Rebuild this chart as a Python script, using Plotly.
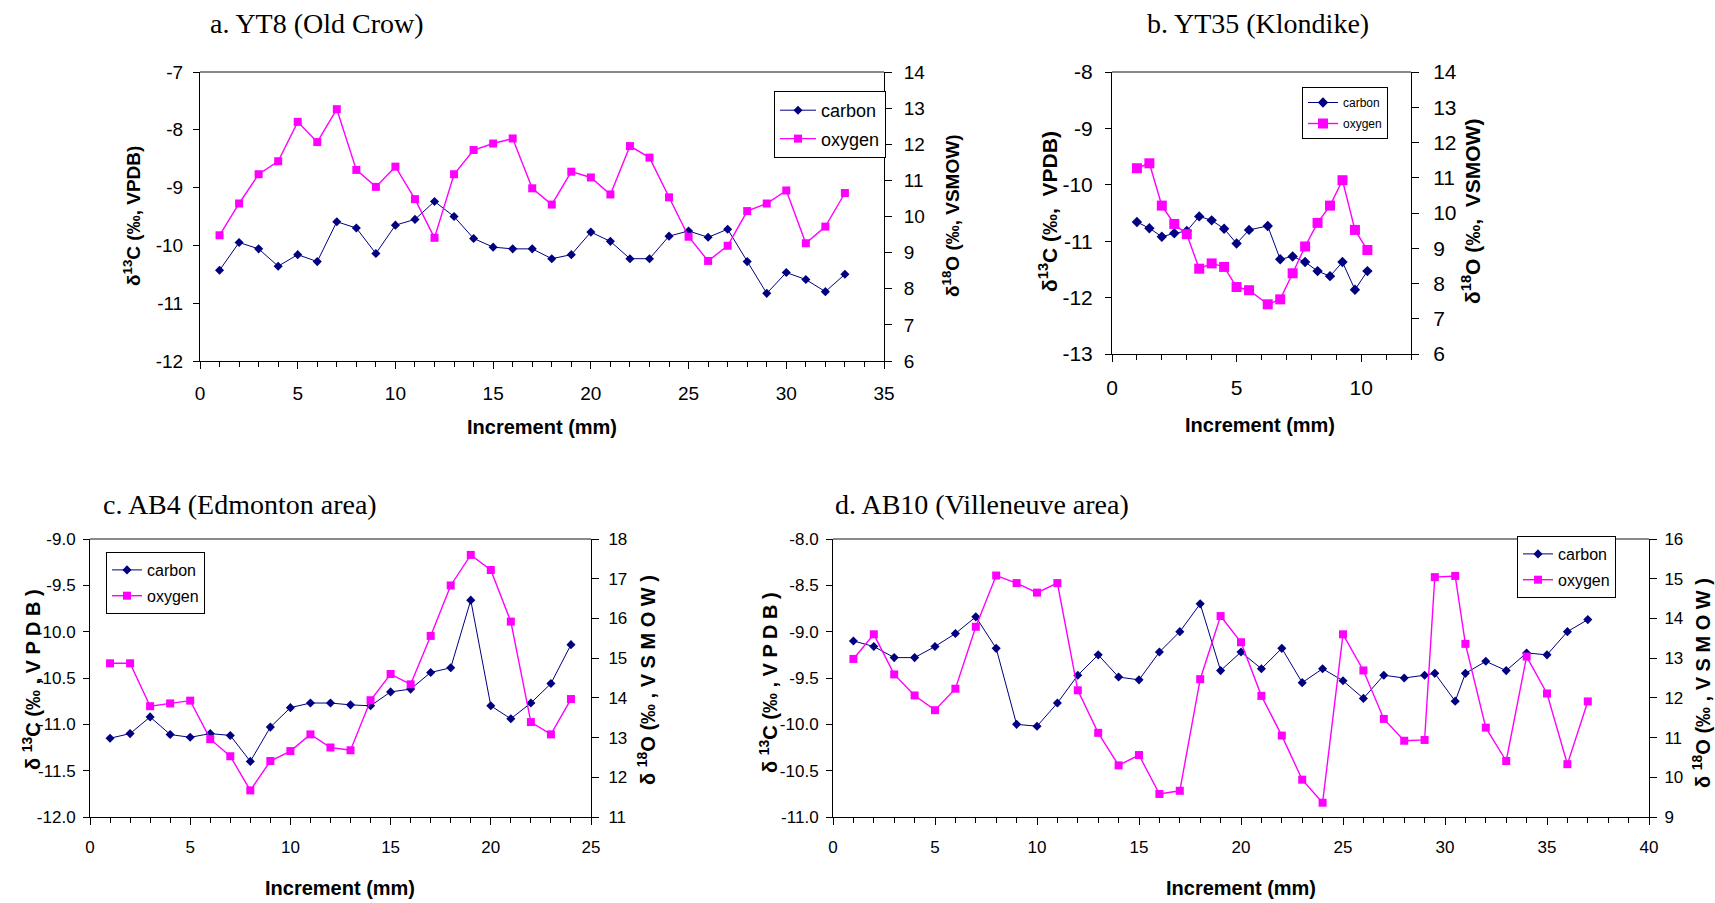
import plotly.graph_objects as go

W, H = 1715, 903

# ---- a. YT8 (Old Crow) ----
a_inc = list(range(1, 34))
a_carbon = [-10.43, -9.95, -10.06, -10.36, -10.16, -10.28, -9.59, -9.70, -10.14, -9.65,
            -9.55, -9.24, -9.50, -9.88, -10.03, -10.06, -10.06, -10.23, -10.16, -9.77,
            -9.93, -10.23, -10.23, -9.84, -9.75, -9.86, -9.72, -10.28, -10.83, -10.47,
            -10.59, -10.80, -10.50]
a_oxygen = [9.48, 10.36, 11.17, 11.53, 12.62, 12.06, 12.97, 11.29, 10.82, 11.38,
            10.48, 9.41, 11.17, 11.84, 12.02, 12.16, 10.78, 10.33, 11.24, 11.08,
            10.61, 11.95, 11.63, 10.53, 9.44, 8.77, 9.19, 10.15, 10.36, 10.72,
            9.26, 9.72, 10.65]
a_cticks = [-12, -11, -10, -9, -8, -7]
a_ctick_text = ["-12", "-11", "-10", "-9", "-8", "-7"]

# ---- b. YT35 (Klondike) ----
b_inc = [1.0, 1.5, 2.0, 2.5, 3.0, 3.5, 4.0, 4.5, 5.0, 5.5,
         6.25, 6.75, 7.25, 7.75, 8.25, 8.75, 9.25, 9.75, 10.25]
b_carbon = [-10.66, -10.77, -10.92, -10.86, -10.82, -10.56, -10.63, -10.78, -11.04, -10.80,
            -10.73, -11.32, -11.27, -11.37, -11.53, -11.62, -11.37, -11.86, -11.53]
b_oxygen = [11.27, 11.41, 10.21, 9.69, 9.40, 8.42, 8.57, 8.47, 7.90, 7.81,
            7.41, 7.55, 8.29, 9.05, 9.72, 10.21, 10.93, 9.52, 8.95]
b_cticks = [-13, -12, -11, -10, -9, -8]
b_ctick_text = ["-13", "-12", "-11", "-10", "-9", "-8"]

# ---- c. AB4 (Edmonton area) ----
c_inc = list(range(1, 25))
c_carbon = [-11.15, -11.10, -10.92, -11.11, -11.14, -11.10, -11.12, -11.40, -11.03, -10.82,
            -10.77, -10.77, -10.79, -10.80, -10.65, -10.62, -10.44, -10.39, -9.66, -10.80,
            -10.94, -10.77, -10.56, -10.14]
c_oxygen = [14.87, 14.87, 13.79, 13.86, 13.93, 12.96, 12.53, 11.67, 12.41, 12.66,
            13.08, 12.75, 12.68, 13.94, 14.60, 14.34, 15.56, 16.83, 17.60, 17.22,
            15.92, 13.39, 13.08, 13.97]
c_cticks = [-12.0, -11.5, -11.0, -10.5, -10.0, -9.5, -9.0]
c_ctick_text = ["-12.0", "-11.5", "-11.0", "-10.5", "-10.0", "-9.5", "-9.0"]

# ---- d. AB10 (Villeneuve area) ----
d_inc = list(range(1, 30)) + [29.5, 30.5] + list(range(31, 38))
d_carbon = [-9.10, -9.16, -9.28, -9.28, -9.16, -9.02, -8.84, -9.18, -10.00, -10.02,
            -9.77, -9.47, -9.25, -9.49, -9.52, -9.22, -9.00, -8.70, -9.42, -9.22,
            -9.40, -9.18, -9.55, -9.40, -9.53, -9.72, -9.47, -9.50, -9.47, -9.45,
            -9.75, -9.45, -9.32, -9.42, -9.23, -9.25, -9.00, -8.87]
d_oxygen = [12.98, 13.60, 12.59, 12.06, 11.69, 12.23, 13.79, 15.08, 14.89, 14.65,
            14.89, 12.19, 11.12, 10.30, 10.56, 9.58, 9.66, 12.47, 14.06, 13.40,
            12.05, 11.05, 9.94, 9.36, 13.60, 12.69, 11.47, 10.92, 10.94, 15.04,
            15.07, 13.36, 11.25, 10.41, 13.04, 12.11, 10.33, 11.91]
d_cticks = [-11.0, -10.5, -10.0, -9.5, -9.0, -8.5, -8.0]
d_ctick_text = ["-11.0", "-10.5", "-10.0", "-9.5", "-9.0", "-8.5", "-8.0"]

titles = ["a. YT8 (Old Crow)", "b. YT35 (Klondike)",
          "c. AB4 (Edmonton area)", "d. AB10 (Villeneuve area)"]

NAVY = "#000080"
MAGENTA = "#FF00FF"
SANS = "Liberation Sans, Arial, sans-serif"
SERIF = "Liberation Serif, Times New Roman, serif"

# panel geometry in page pixels and style settings
panels = [
    dict(inc=a_inc, c=a_carbon, o=a_oxygen, cv=a_cticks, ct=a_ctick_text,
         px=(200, 884), py=(72, 361), xr=[0, 35], yl=[-12, -7], yr=[6, 14],
         tsize=19, ttl=19, xsize=20, xstand=8, lstand=6, rstand=8,
         ytl="δ<sup>13</sup>C (‰, VPDB)", ytr="δ<sup>18</sup>O (‰, VSMOW)",
         ytlx=132, ytrx=951, yty=216, xtx=542, xty=427, title=(317, 24),
         leg=(774, 91), lsize=18, iw=36, csize=7, osize=8),
    dict(inc=b_inc, c=b_carbon, o=b_oxygen, cv=b_cticks, ct=b_ctick_text,
         px=(1112, 1411), py=(72, 354), xr=[0, 12], yl=[-13, -8], yr=[6, 14],
         tsize=21, ttl=21, xsize=20, xstand=8, lstand=8, rstand=10,
         ytl="δ<sup>13</sup>C (‰,  VPDB)", ytr="δ<sup>18</sup>O (‰,  VSMOW)",
         ytlx=1048, ytrx=1471, yty=212, xtx=1260, xty=425, title=(1258, 24),
         leg=(1302, 87), lsize=12, iw=30, csize=8, osize=10),
    dict(inc=c_inc, c=c_carbon, o=c_oxygen, cv=c_cticks, ct=c_ctick_text,
         px=(90, 591), py=(539, 817), xr=[0, 25], yl=[-12, -9], yr=[11, 18],
         tsize=17, ttl=20, xsize=20, xstand=8, lstand=4, rstand=6,
         ytl="δ <sup>13</sup>C (‰ , V P D B )", ytr="δ <sup>18</sup>O (‰ , V S M O W )",
         ytlx=31, ytrx=646, yty=680, xtx=340, xty=888, title=(240, 505),
         leg=(106, 552), lsize=16, iw=30, csize=7, osize=8),
    dict(inc=d_inc, c=d_carbon, o=d_oxygen, cv=d_cticks, ct=d_ctick_text,
         px=(833, 1649), py=(539, 817), xr=[0, 40], yl=[-11, -8], yr=[9, 16],
         tsize=17, ttl=20, xsize=20, xstand=8, lstand=4, rstand=4,
         ytl="δ <sup>13</sup>C (‰ , V P D B )", ytr="δ <sup>18</sup>O (‰ , V S M O W )",
         ytlx=768, ytrx=1701, yty=683, xtx=1241, xty=888, title=(982, 505),
         leg=(1517, 536), lsize=16, iw=30, csize=7, osize=8),
]

fig = go.Figure()
layout = dict(width=W, height=H, autosize=False,
              margin=dict(l=0, r=0, t=0, b=0, pad=0, autoexpand=False),
              paper_bgcolor="white", plot_bgcolor="white",
              showlegend=True, annotations=[], shapes=[])


def px2x(v):
    return v / W


def px2y(v):
    return 1 - v / H


for i, p in enumerate(panels, start=1):
    xname = "x" if i == 1 else f"x{i}"
    yl_name = "y" if i == 1 else f"y{2 * i - 1}"
    yr_name = f"y{2 * i}"
    leg_name = "legend" if i == 1 else f"legend{i}"

    fig.add_trace(go.Scatter(
        x=p["inc"], y=p["c"], name="carbon", mode="lines+markers",
        line=dict(color=NAVY, width=1),
        marker=dict(symbol="diamond", size=p["csize"], color=NAVY),
        xaxis=xname, yaxis=yl_name, legend=leg_name, legendgroup=f"c{i}"))
    fig.add_trace(go.Scatter(
        x=p["inc"], y=p["o"], name="oxygen", mode="lines+markers",
        line=dict(color=MAGENTA, width=1.4),
        marker=dict(symbol="square", size=p["osize"], color=MAGENTA),
        xaxis=xname, yaxis=yr_name, legend=leg_name, legendgroup=f"o{i}"))

    xdom = [px2x(p["px"][0]), px2x(p["px"][1])]
    ydom = [px2y(p["py"][1]), px2y(p["py"][0])]
    tick_font = dict(family=SANS, size=p["tsize"], color="black")

    layout["xaxis" if i == 1 else f"xaxis{i}"] = dict(
        domain=xdom, anchor=yl_name, range=p["xr"], tick0=0, dtick=5,
        showgrid=False, zeroline=False, showline=True, linecolor="black", linewidth=1,
        ticks="outside", ticklen=7, tickcolor="black", tickfont=tick_font,
        ticklabelstandoff=p["xstand"], automargin=False,
        minor=dict(dtick=1, tick0=0, ticks="outside", ticklen=5, tickcolor="black",
                   showgrid=False))
    layout["yaxis" if i == 1 else f"yaxis{2 * i - 1}"] = dict(
        domain=ydom, anchor=xname, range=p["yl"], tickmode="array",
        tickvals=p["cv"], ticktext=p["ct"], showgrid=False, zeroline=False,
        showline=True, linecolor="black", linewidth=1, ticks="outside", ticklen=6,
        tickcolor="black", tickfont=tick_font, ticklabelstandoff=p["lstand"],
        automargin=False)
    layout[f"yaxis{2 * i}"] = dict(
        domain=ydom, anchor=xname, overlaying=yl_name, side="right",
        range=p["yr"], tick0=p["yr"][0], dtick=1, showgrid=False, zeroline=False,
        showline=True, linecolor="black", linewidth=1, ticks="outside", ticklen=7,
        tickcolor="black", tickfont=tick_font, ticklabelstandoff=p["rstand"],
        automargin=False)

    # grey top border of the plot area
    layout["shapes"].append(dict(
        type="line", xref=f"{xname} domain", yref=f"{yl_name} domain",
        x0=0, x1=1, y0=1, y1=1, line=dict(color="#8a8a8a", width=2)))

    layout[leg_name] = dict(
        x=px2x(p["leg"][0]), y=px2y(p["leg"][1]), xanchor="left", yanchor="top",
        bgcolor="white", bordercolor="black", borderwidth=1,
        font=dict(family=SANS, size=p["lsize"], color="black"),
        tracegroupgap=2, itemwidth=p["iw"])

    ttl_font = dict(family=SANS, size=p["ttl"], color="black", weight="bold")
    layout["annotations"] += [
        dict(text=p["ytl"], x=px2x(p["ytlx"]), y=px2y(p["yty"]), xref="paper",
             yref="paper", textangle=-90, showarrow=False, font=ttl_font,
             xanchor="center", yanchor="middle"),
        dict(text=p["ytr"], x=px2x(p["ytrx"]), y=px2y(p["yty"]), xref="paper",
             yref="paper", textangle=-90, showarrow=False, font=ttl_font,
             xanchor="center", yanchor="middle"),
        dict(text="Increment (mm)", x=px2x(p["xtx"]), y=px2y(p["xty"]), xref="paper",
             yref="paper", showarrow=False,
             font=dict(family=SANS, size=p["xsize"], color="black", weight="bold"),
             xanchor="center", yanchor="middle"),
        dict(text=titles[i - 1], x=px2x(p["title"][0]), y=px2y(p["title"][1]),
             xref="paper", yref="paper", showarrow=False,
             font=dict(family=SERIF, size=28, color="black"),
             xanchor="center", yanchor="middle"),
    ]

fig.update_layout(**layout)
fig.write_html("out.html", config=dict(displayModeBar=False))
